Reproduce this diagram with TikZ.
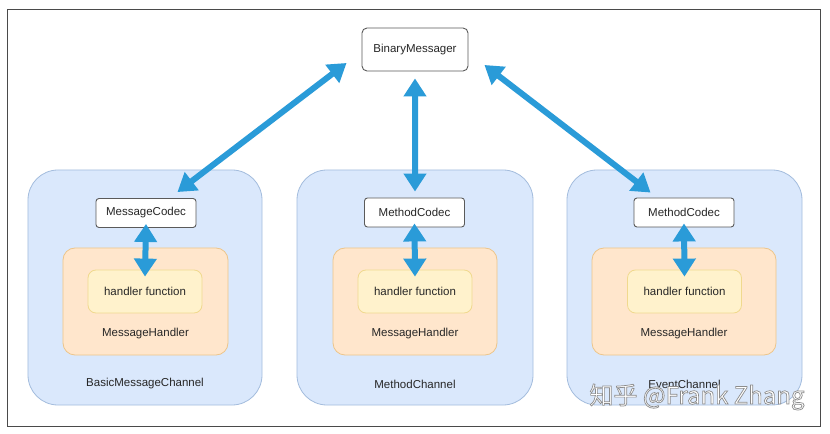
\documentclass[tikz,border=0pt]{standalone}
\usepackage{fontspec}
\setmainfont{Liberation Sans}
\newfontfamily\cjkfont{Noto Sans CJK SC}
\usetikzlibrary{arrows.meta,calc}
\definecolor{chfill}{HTML}{DAE8FC}
\definecolor{chline}{HTML}{A3BCDD}
\definecolor{mhfill}{HTML}{FFE6CC}
\definecolor{mhline}{HTML}{EDC58A}
\definecolor{hffill}{HTML}{FFF2CC}
\definecolor{hfline}{HTML}{F0D98E}
\definecolor{arrblue}{HTML}{2A9BD8}
\definecolor{frameline}{HTML}{4A4A4A}
\definecolor{boxline}{HTML}{5A5A5A}
\tikzset{
  every node/.style={font=\fontsize{11.5bp}{14bp}\selectfont, text=black!85, inner sep=0pt},
  chanbox/.style={draw=chline, fill=chfill, line width=0.8bp, rounded corners=30bp, minimum height=235bp},
  mhbox/.style={draw=mhline, fill=mhfill, line width=0.8bp, rounded corners=12bp, minimum height=107bp},
  hfbox/.style={draw=hfline, fill=hffill, line width=0.8bp, rounded corners=8bp, minimum height=43bp, minimum width=114bp},
  codecbox/.style={draw=boxline, fill=white, line width=0.9bp, rounded corners=3bp, minimum height=29bp, minimum width=100bp},
  bmbox/.style={draw=boxline, fill=white, line width=0.9bp, rounded corners=5bp, minimum height=43bp, minimum width=106bp},
  dblarrow/.style={draw=arrblue, line width=6bp, {Triangle[width=22bp,length=18bp]}-{Triangle[width=22bp,length=18bp]}},
  lbl/.style={}
}
\begin{document}
\begin{tikzpicture}[x=1bp,y=-1bp]
\useasboundingbox (0,0) rectangle (830,434);
\fill[white] (0,0) rectangle (830,434);
\draw[frameline, line width=1bp] (7,10) rectangle (820,426);

% BinaryMessager
\node[bmbox] (bm) at (415,49.5) {BinaryMessager};

% channel boxes
\node[chanbox, minimum width=234bp] (ch1) at (145,287.5) {};
\node[chanbox, minimum width=236bp] (ch2) at (415,287.5) {};
\node[chanbox, minimum width=235bp] (ch3) at (684.5,287.5) {};

% message handler boxes
\node[mhbox, minimum width=165bp] (mh1) at (145.5,301.5) {};
\node[mhbox, minimum width=164bp] (mh2) at (415,301.5) {};
\node[mhbox, minimum width=184bp] (mh3) at (684,301.5) {};

% handler function boxes
\node[hfbox] (hf1) at (145,291.5) {handler function};
\node[hfbox] (hf2) at (415,291.5) {handler function};
\node[hfbox] (hf3) at (684.5,291.5) {handler function};

% labels
\node[lbl] (mhl1) at (145.5,334) {MessageHandler};
\node[lbl] (mhl2) at (415,334) {MessageHandler};
\node[lbl] (mhl3) at (684,334) {MessageHandler};
\node[lbl] (chl1) at (145,384) {BasicMessageChannel};
\node[lbl] (chl2) at (415,384) {MethodChannel};
\node[lbl] (chl3) at (684.5,384) {EventChannel};

% codecs
\node[codecbox] (cd1) at (146,213) {MessageCodec};
\node[codecbox] (cd2) at (414.5,212.5) {MethodCodec};
\node[codecbox] (cd3) at (684,212.5) {MethodCodec};

% inner arrows
\draw[dblarrow] ($(cd1.south)+(0,-4)$) -- ($(hf1.north)+(0,7)$);
\draw[dblarrow] ($(cd2.south)+(0,-4)$) -- ($(hf2.north)+(0,7)$);
\draw[dblarrow] ($(cd3.south)+(0,-4)$) -- ($(hf3.north)+(0,7)$);

% top arrows
\coordinate (bmL) at ($(bm.west)+(-15,13.5)$);
\coordinate (bmR) at ($(bm.east)+(16,15.5)$);
\coordinate (cdL) at ($(cd1.north east)+(-19,-6)$);
\coordinate (cdR) at ($(cd3.north west)+(17,-5)$);
\draw[dblarrow] (bmL) -- (cdL);
\draw[dblarrow] ($(bm.south)+(0,7)$) -- ($(cd2.north)+(0.5,-6)$);
\draw[dblarrow] (bmR) -- (cdR);

% watermark
\node[font=\cjkfont\fontsize{24bp}{28bp}\selectfont, text=white] (wm) at (697,397)
  {\special{pdf:literal direct 0.55 G 0.7 w 2 Tr}知乎 @Frank Zhang\special{pdf:literal direct 0 Tr}};
\end{tikzpicture}
\end{document}
